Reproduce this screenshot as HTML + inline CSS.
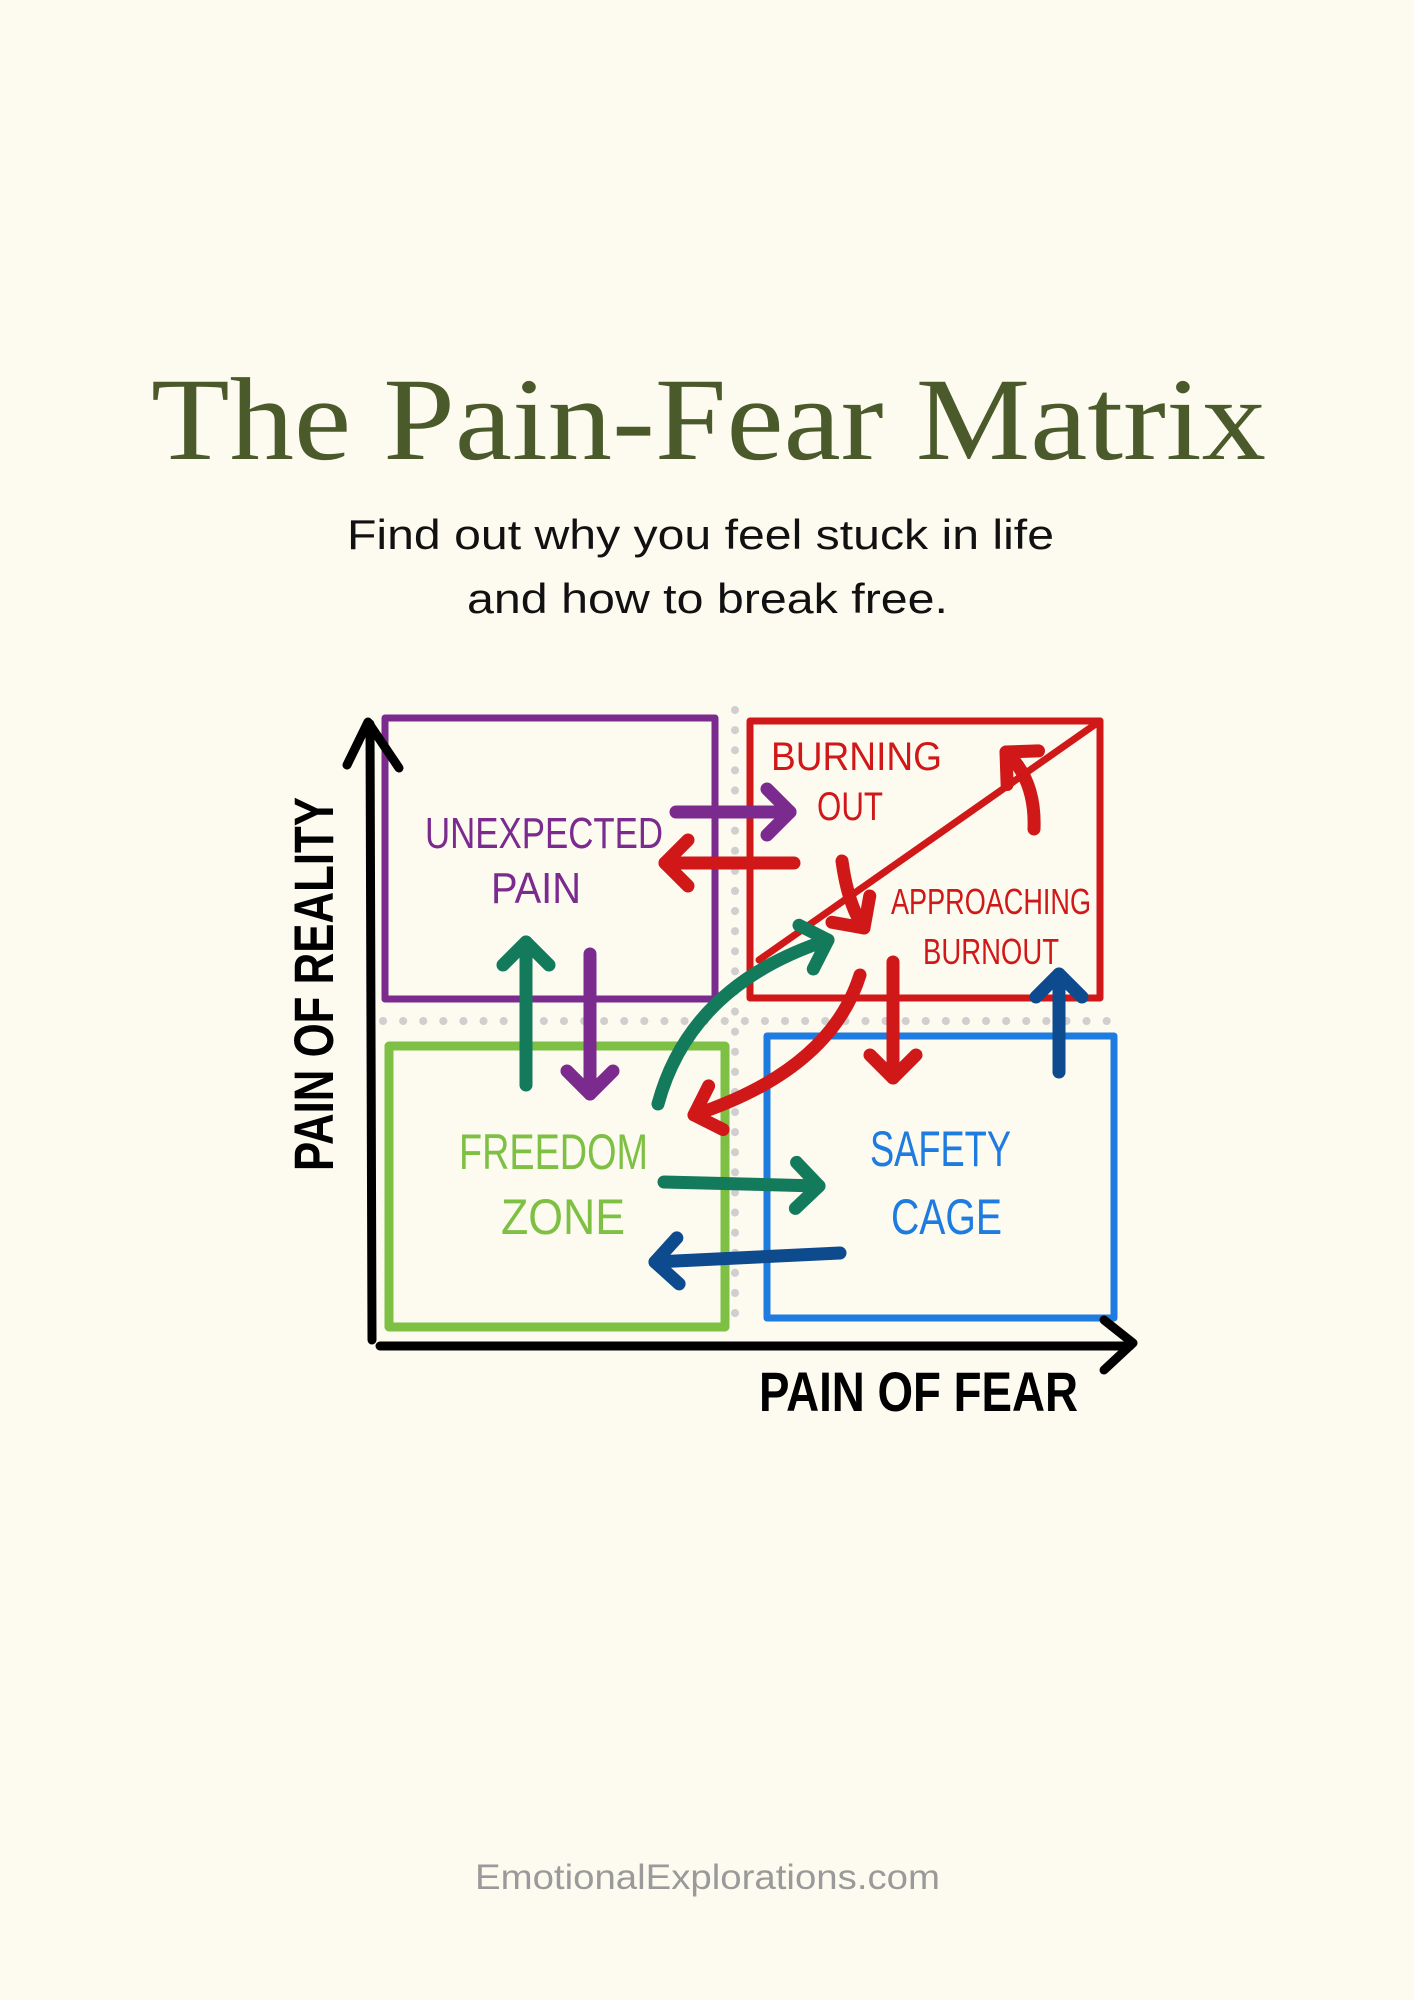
<!DOCTYPE html>
<html><head><meta charset="utf-8"><style>
html,body{margin:0;padding:0;background:#fdfaf0;}
svg{display:block}
</style></head><body>
<svg width="1414" height="2000" viewBox="0 0 1414 2000" xmlns="http://www.w3.org/2000/svg">
<defs>
<marker id="mp" markerUnits="userSpaceOnUse" markerWidth="70" markerHeight="70" refX="35" refY="35" viewBox="0 0 70 70" orient="auto" overflow="visible"><path d="M12,12 L35,35 L12,58" fill="none" stroke="#7b2a8e" stroke-width="13" stroke-linecap="round" stroke-linejoin="round"/></marker>
<marker id="mr" markerUnits="userSpaceOnUse" markerWidth="70" markerHeight="70" refX="35" refY="35" viewBox="0 0 70 70" orient="auto" overflow="visible"><path d="M12,12 L35,35 L12,58" fill="none" stroke="#d01818" stroke-width="13" stroke-linecap="round" stroke-linejoin="round"/></marker>
<marker id="mt" markerUnits="userSpaceOnUse" markerWidth="70" markerHeight="70" refX="35" refY="35" viewBox="0 0 70 70" orient="auto" overflow="visible"><path d="M12,12 L35,35 L12,58" fill="none" stroke="#137a5c" stroke-width="13" stroke-linecap="round" stroke-linejoin="round"/></marker>
<marker id="mn" markerUnits="userSpaceOnUse" markerWidth="70" markerHeight="70" refX="35" refY="35" viewBox="0 0 70 70" orient="auto" overflow="visible"><path d="M12,12 L35,35 L12,58" fill="none" stroke="#0e4a8e" stroke-width="13" stroke-linecap="round" stroke-linejoin="round"/></marker>
</defs>
<rect width="1414" height="2000" fill="#fdfaf0"/>

<text x="151" y="459" font-family="Liberation Serif, serif" font-size="118" fill="#4a5a2b" textLength="1115" lengthAdjust="spacingAndGlyphs">The Pain-Fear Matrix</text>
<text x="347" y="549" font-family="Liberation Sans, sans-serif" font-size="42" fill="#111" textLength="707" lengthAdjust="spacingAndGlyphs">Find out why you feel stuck in life</text>
<text x="467" y="613" font-family="Liberation Sans, sans-serif" font-size="42" fill="#111" textLength="481" lengthAdjust="spacingAndGlyphs">and how to break free.</text>
<text x="475" y="1889" font-family="Liberation Sans, sans-serif" font-size="35" fill="#9a9a9a" textLength="465" lengthAdjust="spacingAndGlyphs">EmotionalExplorations.com</text>

<line x1="735" y1="710" x2="735" y2="1330" stroke="#cfcfcf" stroke-width="8" stroke-linecap="round" stroke-dasharray="0.1 20"/>
<line x1="383" y1="1021" x2="1110" y2="1021" stroke="#cfcfcf" stroke-width="8" stroke-linecap="round" stroke-dasharray="0.1 20"/>

<g fill="none" stroke-width="7" stroke-linejoin="round" stroke-linecap="round">
<rect x="385" y="718" width="330" height="281" stroke="#7b2a8e"/>
<rect x="750" y="721" width="350" height="277" stroke="#d01818"/>
<line x1="759" y1="960" x2="1100" y2="721" stroke="#d01818"/>
<rect x="389" y="1046" width="336" height="281" stroke="#7dc043" stroke-width="9"/>
<rect x="767" y="1036" width="347" height="282" stroke="#1e7be0"/>
</g>

<g fill="none" stroke="#000" stroke-width="9" stroke-linecap="round" stroke-linejoin="round">
<line x1="370" y1="724" x2="372" y2="1340"/>
<path d="M347,765 L368,722 L399,768"/>
<line x1="380" y1="1346" x2="1130" y2="1346"/>
<path d="M1104,1320 L1133,1343 L1104,1370"/>
</g>

<g font-family="Liberation Sans Narrow, Liberation Sans, sans-serif">
<text x="425" y="848" font-size="44" fill="#7b2a8e" textLength="238" lengthAdjust="spacingAndGlyphs">UNEXPECTED</text>
<text x="491" y="903" font-size="44" fill="#7b2a8e" textLength="90" lengthAdjust="spacingAndGlyphs">PAIN</text>
<text x="771" y="770" font-size="40" fill="#d01818" textLength="171" lengthAdjust="spacingAndGlyphs">BURNING</text>
<text x="817" y="820" font-size="40" fill="#d01818" textLength="66" lengthAdjust="spacingAndGlyphs">OUT</text>
<text x="891" y="914" font-size="36" fill="#d01818" textLength="200" lengthAdjust="spacingAndGlyphs">APPROACHING</text>
<text x="923" y="964" font-size="36" fill="#d01818" textLength="136" lengthAdjust="spacingAndGlyphs">BURNOUT</text>
<text x="459" y="1169" font-size="50" fill="#7dc043" textLength="189" lengthAdjust="spacingAndGlyphs">FREEDOM</text>
<text x="501" y="1234" font-size="50" fill="#7dc043" textLength="124" lengthAdjust="spacingAndGlyphs">ZONE</text>
<text x="870" y="1166" font-size="50" fill="#1e7be0" textLength="141" lengthAdjust="spacingAndGlyphs">SAFETY</text>
<text x="891" y="1234" font-size="50" fill="#1e7be0" textLength="111" lengthAdjust="spacingAndGlyphs">CAGE</text>
<text x="759" y="1411" font-size="56" font-weight="bold" fill="#000" textLength="319" lengthAdjust="spacingAndGlyphs">PAIN OF FEAR</text>
<text transform="translate(333,1171) rotate(-90)" x="0" y="0" font-size="56" font-weight="bold" fill="#000" textLength="374" lengthAdjust="spacingAndGlyphs">PAIN OF REALITY</text>
</g>

<g fill="none" stroke-width="13" stroke-linecap="round">
<line x1="676" y1="812" x2="790" y2="812" stroke="#7b2a8e" marker-end="url(#mp)"/>
<line x1="794" y1="863" x2="665" y2="863" stroke="#d01818" marker-end="url(#mr)"/>
<line x1="526" y1="1085" x2="526" y2="942" stroke="#137a5c" marker-end="url(#mt)"/>
<line x1="590" y1="954" x2="590" y2="1094" stroke="#7b2a8e" marker-end="url(#mp)"/>
<path d="M658,1104 Q690,985 828,940" stroke="#137a5c" marker-end="url(#mt)"/>
<path d="M860,975 Q830,1070 694,1115" stroke="#d01818" marker-end="url(#mr)"/>
<path d="M842,861 Q848,905 864,928" stroke="#d01818" marker-end="url(#mr)"/>
<path d="M1034,829 Q1036,780 1006,752" stroke="#d01818" marker-end="url(#mr)"/>
<line x1="893" y1="962" x2="893" y2="1078" stroke="#d01818" marker-end="url(#mr)"/>
<line x1="1059" y1="1072" x2="1059" y2="974" stroke="#0e4a8e" marker-end="url(#mn)"/>
<line x1="664" y1="1182" x2="819" y2="1186" stroke="#137a5c" marker-end="url(#mt)"/>
<line x1="840" y1="1253" x2="655" y2="1262" stroke="#0e4a8e" marker-end="url(#mn)"/>
</g>
</svg>
</body></html>
